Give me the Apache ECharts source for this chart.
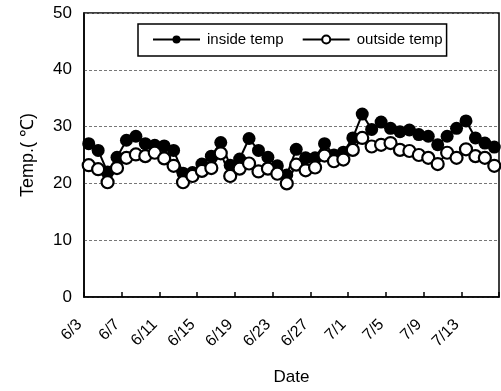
<!DOCTYPE html>
<html>
<head>
<meta charset="utf-8">
<script src="https://cdn.jsdelivr.net/npm/echarts@6/dist/echarts.min.js"></script>
<style>
html,body{margin:0;padding:0;background:#fff;}
#c{width:501px;height:391px;}
</style>
</head>
<body>
<div id="c"></div>
<script>
var dates = ['6/3','6/4','6/5','6/6','6/7','6/8','6/9','6/10','6/11','6/12','6/13','6/14','6/15','6/16','6/17','6/18','6/19','6/20','6/21','6/22','6/23','6/24','6/25','6/26','6/27','6/28','6/29','6/30','7/1','7/2','7/3','7/4','7/5','7/6','7/7','7/8','7/9','7/10','7/11','7/12','7/13','7/14','7/15','7/16'];
var insideTemp = [27.0, 25.8, 22.0, 24.6, 27.6, 28.3, 27.0, 26.7, 26.6, 25.8, 21.8, 21.9, 23.4, 24.8, 27.2, 23.2, 24.3, 27.9, 25.8, 24.6, 23.1, 21.5, 26.0, 24.5, 24.5, 27.0, 25.0, 25.5, 28.0, 32.2, 29.5, 30.8, 29.7, 29.1, 29.4, 28.6, 28.3, 26.8, 28.3, 29.7, 31.0, 28.0, 27.1, 26.4];
var outsideTemp = [23.2, 22.5, 20.2, 22.7, 24.5, 25.1, 24.8, 25.4, 24.4, 23.1, 20.2, 21.3, 22.2, 22.7, 25.3, 21.3, 22.6, 23.5, 22.1, 22.6, 21.7, 20.0, 23.3, 22.3, 22.8, 24.9, 23.9, 24.2, 25.9, 28.0, 26.5, 26.8, 27.1, 25.9, 25.7, 25.0, 24.5, 23.4, 25.4, 24.5, 26.0, 24.8, 24.5, 23.1];
var seriesNames = ['inside temp', 'outside temp'];
var yAxisName = 'Temp.( ℃)';
var xAxisName = 'Date';

var chart = echarts.init(document.getElementById('c'), null, {renderer: 'canvas'});
var font = 'Liberation Sans, Arial, sans-serif';
chart.setOption({
  animation: false,
  backgroundColor: '#fff',
  grid: {left: 84, right: 2, top: 13, bottom: 86, show: true, borderColor: '#000', borderWidth: 1.5, backgroundColor: 'transparent'},
  legend: {
    left: 138, top: 24,
    data: seriesNames,
    itemWidth: 47, itemHeight: 10, itemGap: 18,
    padding: [8, 4, 9, 14],
    borderColor: '#000', borderWidth: 1.5, borderRadius: 0,
    backgroundColor: '#fff',
    textStyle: {color: '#000', fontSize: 15, fontFamily: font, padding: [0, 0, 0, 2]}
  },
  xAxis: {
    type: 'category',
    data: dates,
    boundaryGap: true,
    name: xAxisName,
    nameLocation: 'middle',
    nameGap: 72,
    nameTextStyle: {color: '#000', fontSize: 17, fontFamily: font},
    axisLine: {lineStyle: {color: '#000', width: 1.5}},
    axisTick: {show: true, inside: true, length: 5, interval: 3, lineStyle: {color: '#000', width: 1.5}},
    axisLabel: {interval: 3, rotate: 45, margin: 16, padding: [0, 13, 0, 0], color: '#000', fontSize: 16, fontFamily: font},
    splitLine: {show: false}
  },
  yAxis: {
    type: 'value',
    min: 0, max: 50, interval: 10,
    name: yAxisName,
    nameLocation: 'middle',
    nameGap: 47,
    nameTextStyle: {color: '#000', fontSize: 18, fontFamily: font},
    axisLine: {show: true, lineStyle: {color: '#000', width: 1.5}},
    axisTick: {show: false},
    axisLabel: {margin: 12, color: '#000', fontSize: 17, fontFamily: font},
    splitLine: {show: true, lineStyle: {color: '#777', width: 1, type: [3, 2]}}
  },
  series: [
    {
      name: seriesNames[0], type: 'line', data: insideTemp,
      symbol: 'circle', symbolSize: 13, showAllSymbol: true,
      color: '#000',
      lineStyle: {color: '#000', width: 2},
      itemStyle: {color: '#000', borderColor: '#000', borderWidth: 0}
    },
    {
      name: seriesNames[1], type: 'line', data: outsideTemp,
      symbol: 'circle', symbolSize: 12, showAllSymbol: true,
      color: '#000',
      lineStyle: {color: '#000', width: 2},
      itemStyle: {color: '#fff', borderColor: '#000', borderWidth: 2.2}
    }
  ]
});
</script>
</body>
</html>
